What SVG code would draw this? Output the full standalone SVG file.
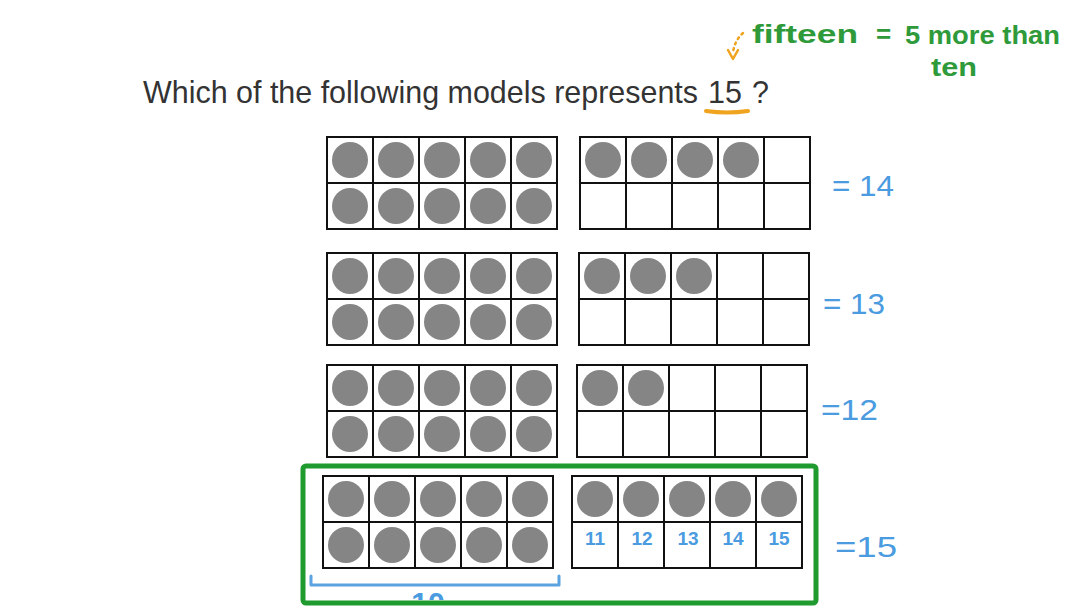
<svg xmlns="http://www.w3.org/2000/svg" width="1088" height="612" viewBox="0 0 1088 612">
<style>
.frame{fill:#fff;stroke:#111;stroke-width:2}
.grid{stroke:#111;stroke-width:2;fill:none}
.dot{fill:#858585}
.title{font-family:"Liberation Sans",Arial,sans-serif;font-size:30.5px;fill:#333}
.green{font-family:"Liberation Sans",Arial,sans-serif;font-size:26px;fill:#2e9a3a;font-weight:bold}
.blue{font-family:"Liberation Sans",Arial,sans-serif;font-size:30px;fill:#4a9be0}
.num{font-family:"Liberation Sans",Arial,sans-serif;font-size:19px;fill:#4a9be0;font-weight:bold;text-anchor:middle}
</style>
<defs>
<g id="tf">
<rect class="frame" x="0" y="0" width="230" height="92"/>
<path class="grid" d="M46 0V92M92 0V92M138 0V92M184 0V92M0 46H230"/>
</g>
<g id="ten">
<use href="#tf"/>
<circle class="dot" cx="23" cy="23" r="18"/><circle class="dot" cx="69" cy="23" r="18"/><circle class="dot" cx="115" cy="23" r="18"/><circle class="dot" cx="161" cy="23" r="18"/><circle class="dot" cx="207" cy="23" r="18"/>
<circle class="dot" cx="23" cy="69" r="18"/><circle class="dot" cx="69" cy="69" r="18"/><circle class="dot" cx="115" cy="69" r="18"/><circle class="dot" cx="161" cy="69" r="18"/><circle class="dot" cx="207" cy="69" r="18"/>
</g>
<clipPath id="clip10"><rect x="0" y="0" width="1088" height="600"/></clipPath>
</defs>
<rect width="1088" height="612" fill="#fff"/>

<g id="title">
<text class="title" x="143" y="103" textLength="555" lengthAdjust="spacingAndGlyphs">Which of the following models represents</text>
<text class="title" x="708" y="103">15</text>
<text class="title" x="752" y="103">?</text>
<path d="M706 111 Q727 114 748 111" stroke="#f0a31e" stroke-width="4" fill="none" stroke-linecap="round"/>
</g>

<g id="note">
<path d="M743 33 Q735 40 733 52" stroke="#f0a31e" stroke-width="2.5" fill="none" stroke-dasharray="2 4" stroke-linecap="round"/>
<path d="M728 50 L733 59 L738 50" stroke="#f0a31e" stroke-width="2.5" fill="none" stroke-linecap="round" stroke-linejoin="round"/>
<text class="green" x="752" y="43" textLength="106" lengthAdjust="spacingAndGlyphs">fifteen</text>
<text class="green" x="876" y="43">=</text>
<text class="green" x="905" y="44" textLength="155" lengthAdjust="spacingAndGlyphs">5 more than</text>
<text class="green" x="931" y="76" textLength="46" lengthAdjust="spacingAndGlyphs">ten</text>
</g>

<g id="row1">
<use href="#ten" x="327" y="137"/>
<use href="#tf" x="580" y="137"/>
<circle class="dot" cx="603" cy="160" r="18"/><circle class="dot" cx="649" cy="160" r="18"/><circle class="dot" cx="695" cy="160" r="18"/><circle class="dot" cx="741" cy="160" r="18"/>
<text class="blue" x="832" y="196" textLength="62" lengthAdjust="spacingAndGlyphs">= 14</text>
</g>

<g id="row2">
<use href="#ten" x="327" y="253"/>
<use href="#tf" x="579" y="253"/>
<circle class="dot" cx="602" cy="276" r="18"/><circle class="dot" cx="648" cy="276" r="18"/><circle class="dot" cx="694" cy="276" r="18"/>
<text class="blue" x="823" y="314" textLength="62" lengthAdjust="spacingAndGlyphs">= 13</text>
</g>

<g id="row3">
<use href="#ten" x="327" y="365"/>
<use href="#tf" x="577" y="365"/>
<circle class="dot" cx="600" cy="388" r="18"/><circle class="dot" cx="646" cy="388" r="18"/>
<text class="blue" x="821" y="420" textLength="57" lengthAdjust="spacingAndGlyphs">=12</text>
</g>

<g id="row4">
<use href="#ten" x="323" y="476"/>
<use href="#tf" x="572" y="476"/>
<circle class="dot" cx="595" cy="499" r="18"/><circle class="dot" cx="641" cy="499" r="18"/><circle class="dot" cx="687" cy="499" r="18"/><circle class="dot" cx="733" cy="499" r="18"/><circle class="dot" cx="779" cy="499" r="18"/>
<text class="num" x="595" y="545">11</text>
<text class="num" x="642" y="545">12</text>
<text class="num" x="688" y="545">13</text>
<text class="num" x="733" y="545">14</text>
<text class="num" x="779" y="545">15</text>
<path d="M311 576 V585 H559 V576" stroke="#5aa3e0" stroke-width="3" fill="none" stroke-linecap="round" stroke-linejoin="round"/>
<text class="blue" x="428" y="613" text-anchor="middle" font-weight="bold" clip-path="url(#clip10)">10</text>
<text class="blue" x="835" y="557" textLength="62" lengthAdjust="spacingAndGlyphs">=15</text>
</g>

<g id="answer">
<rect x="303" y="466" width="513" height="137" fill="none" stroke="#1f9a2e" stroke-width="5" rx="3"/>
</g>
</svg>
